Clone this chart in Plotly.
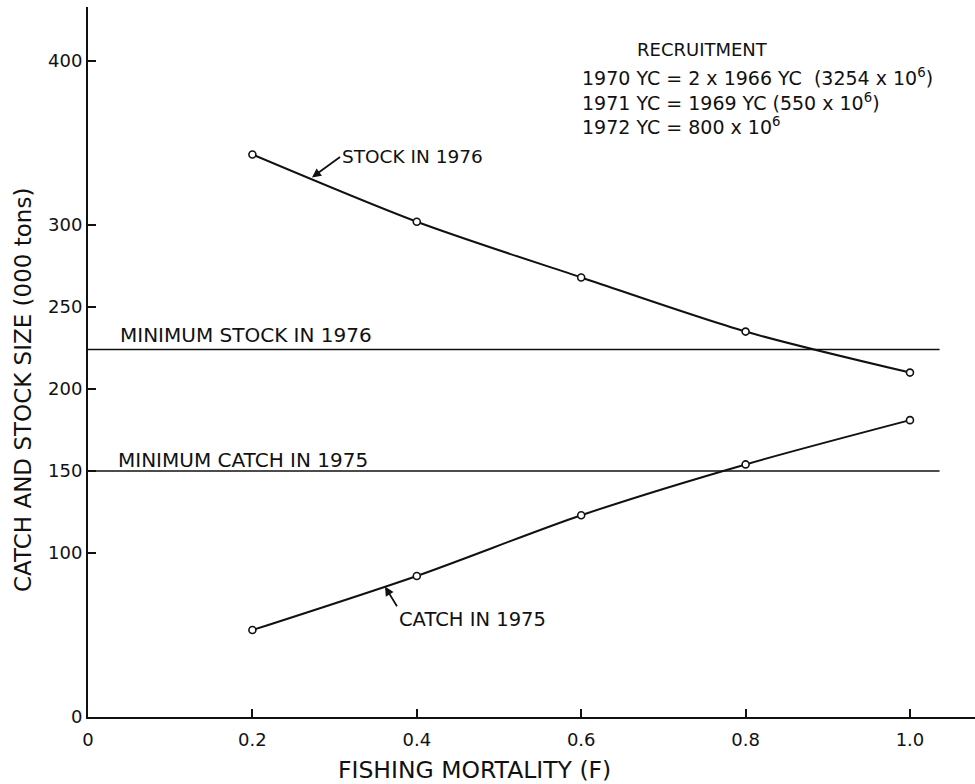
import plotly.graph_objects as go

# ---- data ----
fishing_mortality = [0.2, 0.4, 0.6, 0.8, 1.0]
stock_1976 = [343, 302, 268, 235, 210]
catch_1975 = [53, 86, 123, 154, 181]

min_line_x = [0.0, 1.036]
min_stock_1976 = 224
min_catch_1975 = 150

x_tickvals = [0, 0.2, 0.4, 0.6, 0.8, 1.0]
x_ticktext = ["0", "0.2", "0.4", "0.6", "0.8", "1.0"]
y_tickvals = [0, 100, 150, 200, 250, 300, 400]
y_ticktext = ["0", "100", "150", "200", "250", "300", "400"]

recruitment_title = "RECRUITMENT"
recruitment_lines = [
    "1970 YC = 2 x 1966 YC  (3254 x 10<sup>6</sup>)",
    "1971 YC = 1969 YC (550 x 10<sup>6</sup>)",
    "1972 YC = 800 x 10<sup>6</sup>",
]

FONT = "DejaVu Sans"
BLACK = "#111111"

fig = go.Figure()

# minimum reference lines
fig.add_trace(go.Scatter(x=min_line_x, y=[min_stock_1976] * 2, mode="lines",
                         line=dict(color=BLACK, width=1.5), hoverinfo="skip"))
fig.add_trace(go.Scatter(x=min_line_x, y=[min_catch_1975] * 2, mode="lines",
                         line=dict(color=BLACK, width=1.5), hoverinfo="skip"))

# curves
for ys in (stock_1976, catch_1975):
    fig.add_trace(go.Scatter(
        x=fishing_mortality, y=ys, mode="lines+markers",
        line=dict(color=BLACK, width=2, shape="spline", smoothing=0.8),
        marker=dict(symbol="circle", size=7, color="white",
                    line=dict(color=BLACK, width=1.6)),
    ))

annotations = []
# curve labels with arrows (arrow tail at the text anchor)
annotations.append(dict(x=0.2725, y=329, ax=0.3066, ay=341.5, xref="x", yref="y",
                        axref="x", ayref="y", text="STOCK IN 1976", showarrow=True,
                        xanchor="left", yanchor="middle",
                        arrowhead=2, arrowsize=1, arrowwidth=1.8, arrowcolor=BLACK,
                        font=dict(family=FONT, size=18.5, color=BLACK)))
annotations.append(dict(x=0.3613, y=79.5, ax=0.3759, ay=67.5, xref="x", yref="y",
                        axref="x", ayref="y", text="CATCH IN 1975", showarrow=True,
                        xanchor="left", yanchor="top",
                        arrowhead=2, arrowsize=1, arrowwidth=1.8, arrowcolor=BLACK,
                        font=dict(family=FONT, size=19.5, color=BLACK)))
# minimum labels
annotations.append(dict(x=0.0365, y=233, xref="x", yref="y", text="MINIMUM STOCK IN 1976",
                        showarrow=False, xanchor="left", yanchor="middle",
                        font=dict(family=FONT, size=20, color=BLACK)))
annotations.append(dict(x=0.0345, y=156.5, xref="x", yref="y", text="MINIMUM CATCH IN 1975",
                        showarrow=False, xanchor="left", yanchor="middle",
                        font=dict(family=FONT, size=20, color=BLACK)))
# recruitment block
annotations.append(dict(x=0.665, y=407, xref="x", yref="y", text=recruitment_title,
                        showarrow=False, xanchor="left", yanchor="middle",
                        font=dict(family=FONT, size=18, color=BLACK)))
annotations.append(dict(x=0.5985, y=375.5, xref="x", yref="y",
                        text="<br>".join(recruitment_lines), align="left",
                        showarrow=False, xanchor="left", yanchor="middle",
                        font=dict(family=FONT, size=19, color=BLACK)))
# axis titles
annotations.append(dict(x=-0.0733, y=0.4606, xref="paper", yref="paper",
                        text="CATCH AND STOCK SIZE (000 tons)", textangle=-90,
                        showarrow=False, xanchor="center", yanchor="middle",
                        font=dict(family=FONT, size=23, color=BLACK)))
annotations.append(dict(x=0.4363, y=-0.0746, xref="paper", yref="paper",
                        text="FISHING MORTALITY (F)",
                        showarrow=False, xanchor="center", yanchor="middle",
                        font=dict(family=FONT, size=23.5, color=BLACK)))

fig.update_layout(
    width=975, height=784,
    margin=dict(l=88, r=0, t=7, b=67),
    paper_bgcolor="white", plot_bgcolor="white",
    showlegend=False,
    font=dict(family=FONT, color=BLACK),
    annotations=annotations,
    xaxis=dict(
        range=[0, 1.0791], tickvals=x_tickvals, ticktext=x_ticktext,
        showgrid=False, zeroline=False, showline=True, linewidth=2, linecolor=BLACK,
        ticks="inside", ticklen=8, tickwidth=1.5, tickcolor=BLACK,
        tickfont=dict(family=FONT, size=18, color=BLACK), ticklabelstandoff=5,
    ),
    yaxis=dict(
        range=[0, 432.9], tickvals=y_tickvals, ticktext=y_ticktext,
        showgrid=False, zeroline=False, showline=True, linewidth=2, linecolor=BLACK,
        ticks="inside", ticklen=8, tickwidth=1.5, tickcolor=BLACK,
        tickfont=dict(family=FONT, size=18, color=BLACK),
    ),
)

fig.write_html("out.html")
